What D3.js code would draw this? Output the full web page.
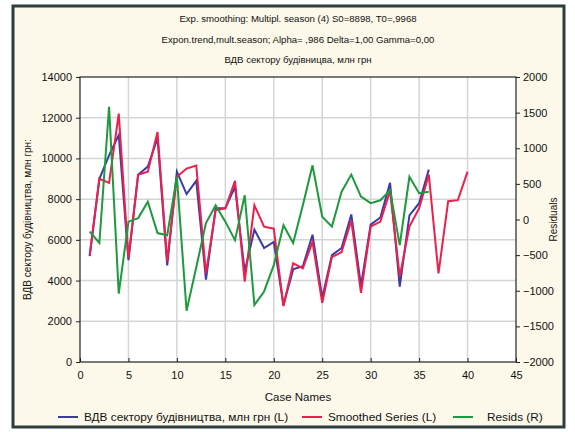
<!DOCTYPE html>
<html><head><meta charset="utf-8">
<script src="https://cdn.jsdelivr.net/npm/d3@7/dist/d3.min.js"></script>
<style>
html,body{margin:0;padding:0;background:#fff;}
svg{display:block;font-family:"Liberation Sans",Arial,sans-serif;}
</style></head>
<body>
<svg id="chart" width="575" height="432"></svg>
<script>
const titleLines = [
  "Exp. smoothing: Multipl. season (4) S0=8898, T0=,9968",
  "Expon.trend,mult.season; Alpha= ,986 Delta=1,00 Gamma=0,00",
  "ВДВ сектору будівницва, млн грн"
];
const xLabel = "Case Names";
const yLeftLabel = "ВДВ сектору будівництва, млн грн:";
const yRightLabel = "Residuals";
const seriesNames = ["ВДВ сектору будівництва, млн грн (L)", "Smoothed Series (L)", "Resids (R)"];
const seriesColors = ["#3b3ba8", "#ee1f4b", "#1c9a3c"];

const cases = [1,2,3,4,5,6,7,8,9,10,11,12,13,14,15,16,17,18,19,20,
               21,22,23,24,25,26,27,28,29,30,31,32,33,34,35,36,37,38,39,40];
const actual = [5200,9000,10150,11150,5000,9200,9600,11000,4750,9350,
                8250,8900,4050,7550,7550,8600,4450,6500,5600,5900,
                2800,4550,4700,6250,3150,5250,5600,7250,3750,6750,
                7100,8800,3700,7200,7800,9450];
const smoothed = [5250,9000,8800,12200,5100,9200,9350,11300,4950,9100,
                  9500,9650,4350,7450,7550,8900,3950,7700,6650,6550,
                  2750,4850,4600,5900,2900,5150,5400,6950,3400,6650,
                  6900,8400,4200,6650,7550,9200,4350,7900,7950,9350];
const resids = [-170,-330,1580,-1040,-30,20,250,-190,-220,600,
                -1280,-670,-50,200,-30,-290,340,-1200,-1010,-640,
                -80,-330,200,760,40,-100,390,630,320,230,
                270,410,-360,600,370,390];

const xTicks = [0,5,10,15,20,25,30,35,40,45];
const yLeftTicks = [0,2000,4000,6000,8000,10000,12000,14000];
const yRightTicks = [-2000,-1500,-1000,-500,0,500,1000,1500,2000];

const svg = d3.select("#chart");
const L = 80, R = 516, T = 77, B = 362;

// outer frame
svg.append("rect").attr("x",13).attr("y",6).attr("width",551).attr("height",421)
  .attr("fill","#fdf9ea").attr("stroke","#2e3d3d").attr("stroke-width",3);

const x = d3.scaleLinear().domain([0,45]).range([L,R]);
const yL = d3.scaleLinear().domain([0,14000]).range([B,T]);
const yR = d3.scaleLinear().domain([-2000,2000]).range([B,T]);

svg.append("rect").attr("x",L).attr("y",T).attr("width",R-L).attr("height",B-T).attr("fill","#ffffff");

// grid
const grid = svg.append("g");
grid.selectAll("line.v").data(xTicks.slice(1,-1)).join("line")
  .attr("x1",d=>x(d)).attr("x2",d=>x(d)).attr("y1",T).attr("y2",B)
  .attr("stroke","#d4d6d6").attr("stroke-width",1.5);
grid.selectAll("line.h").data(yLeftTicks.slice(1,-1)).join("line")
  .attr("x1",L).attr("x2",R).attr("y1",d=>yL(d)).attr("y2",d=>yL(d))
  .attr("stroke","#d4d6d6").attr("stroke-width",1.5);

// titles
const tg = svg.append("g").attr("font-size",9.6).attr("fill","#111").attr("text-anchor","middle");
const titleY = [22, 43, 63];
titleLines.forEach((t,i)=>tg.append("text").attr("x",298).attr("y",titleY[i]).text(t));

// axes
const fmt = d3.format("d");
const axB = d3.axisBottom(x).tickValues(xTicks).tickFormat(fmt).tickSize(-4).tickPadding(9);
const axL = d3.axisLeft(yL).tickValues(yLeftTicks).tickFormat(fmt).tickSize(4).tickPadding(4);
const axR = d3.axisRight(yR).tickValues(yRightTicks).tickFormat(fmt).tickSize(4).tickPadding(3);
function styleAxis(g){
  g.selectAll("path").remove();
  g.selectAll("line").attr("stroke","#222");
  g.selectAll("text").attr("font-size",11).attr("fill","#111").attr("font-family","'Liberation Sans',Arial,sans-serif");
}
svg.append("g").attr("transform",`translate(0,${B})`).call(axB).call(styleAxis);
svg.append("g").attr("transform",`translate(${L},0)`).call(axL).call(styleAxis);
svg.append("g").attr("transform",`translate(${R},0)`).call(axR).call(styleAxis);

// axis labels
svg.append("text").attr("x",298).attr("y",401).attr("text-anchor","middle")
  .attr("font-size",11.5).attr("fill","#111").text(xLabel);
svg.append("text").attr("transform",`translate(31,${(T+B)/2}) rotate(-90)`).attr("text-anchor","middle")
  .attr("font-size",10).attr("fill","#111").text(yLeftLabel);
svg.append("text").attr("transform",`translate(557,${(T+B)/2}) rotate(-90)`).attr("text-anchor","middle")
  .attr("font-size",10).attr("fill","#111").text(yRightLabel);

// lines
const clipId = "plotclip";
svg.append("clipPath").attr("id",clipId).append("rect").attr("x",L).attr("y",T).attr("width",R-L).attr("height",B-T);
const lineL = d3.line().x((d,i)=>x(cases[i])).y(d=>yL(d));
const lineR = d3.line().x((d,i)=>x(cases[i])).y(d=>yR(d));
const pg = svg.append("g").attr("clip-path",`url(#${clipId})`).attr("fill","none")
  .attr("stroke-width",2).attr("stroke-linejoin","miter");
pg.append("path").datum(actual).attr("d",lineL).attr("stroke",seriesColors[0]);
pg.append("path").datum(smoothed).attr("d",lineL).attr("stroke",seriesColors[1]);
pg.append("path").datum(resids).attr("d",lineR).attr("stroke",seriesColors[2]);

// plot frame
svg.append("rect").attr("x",L).attr("y",T).attr("width",R-L).attr("height",B-T)
  .attr("fill","none").attr("stroke","#222").attr("stroke-width",1.2);

// legend
const legendX = [58, 302, 453];
const textX = [84, 328, 487];
const lg = svg.append("g").attr("font-size",11.8).attr("fill","#111");
seriesNames.forEach((n,i)=>{
  lg.append("line").attr("x1",legendX[i]).attr("x2",legendX[i]+20).attr("y1",417).attr("y2",417)
    .attr("stroke",seriesColors[i]).attr("stroke-width",2);
  lg.append("text").attr("x",textX[i]).attr("y",421).text(n);
});
</script>
</body></html>
